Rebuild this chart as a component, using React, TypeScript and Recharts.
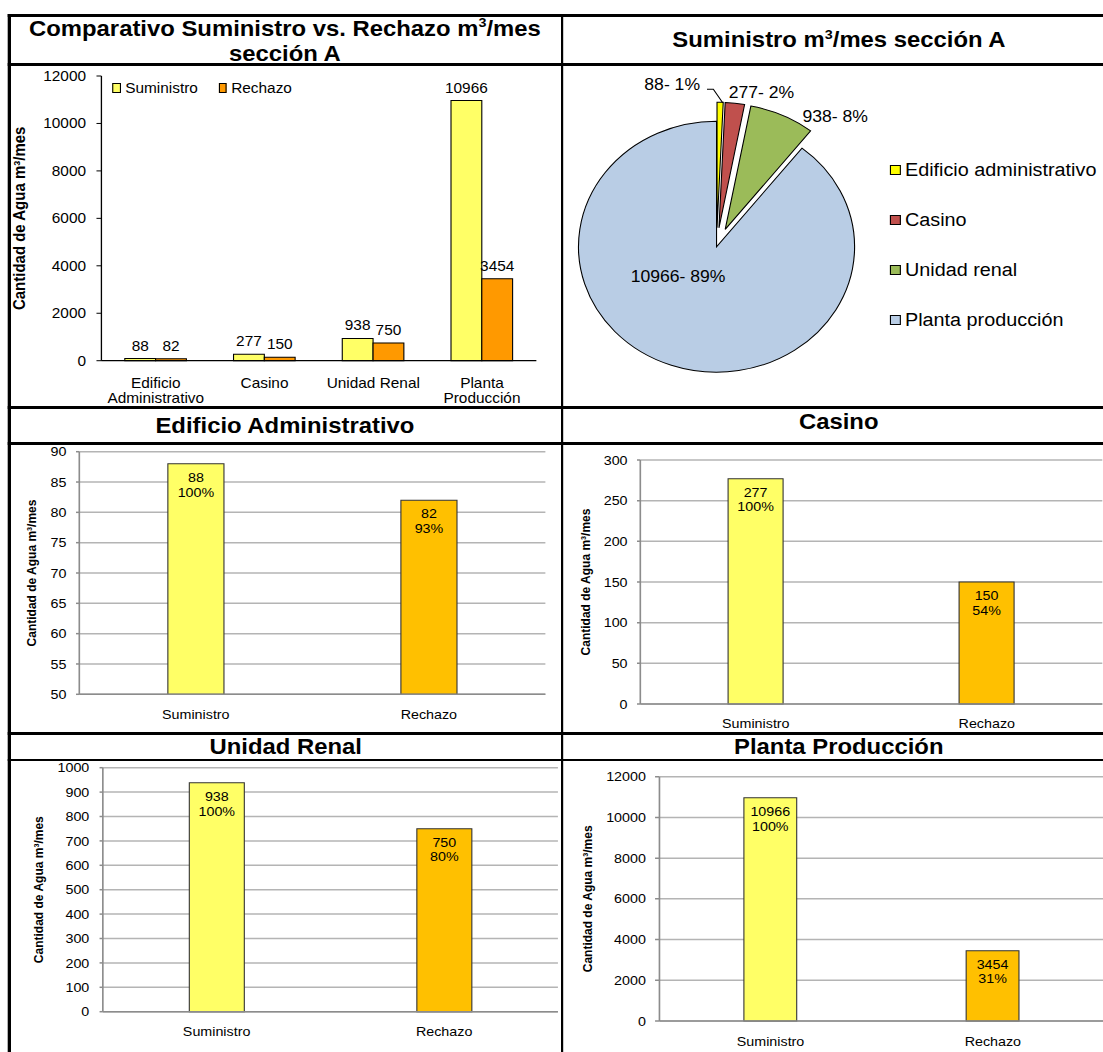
import React from 'react';
import {
  BarChart,
  Bar,
  XAxis,
  YAxis,
  CartesianGrid,
  LabelList,
  Label,
  Cell,
  PieChart,
  Pie,
  Sector,
} from 'recharts';

// ---- data ----
const AREAS = ['Edificio Administrativo', 'Casino', 'Unidad Renal', 'Planta Producción'];
const AREA_TICK_LINES = [['Edificio', 'Administrativo'], ['Casino'], ['Unidad Renal'], ['Planta', 'Producción']];
const SUMINISTRO = [88, 277, 938, 10966];
const RECHAZO = [82, 150, 750, 3454];
const SERIES = ['Suministro', 'Rechazo'];
const PIE_NAMES = ['Edificio administrativo', 'Casino', 'Unidad renal', 'Planta producción'];

const MAIN_TICKS = [0, 2000, 4000, 6000, 8000, 10000, 12000];
const EDIFICIO_TICKS = [50, 55, 60, 65, 70, 75, 80, 85, 90];
const CASINO_TICKS = [0, 50, 100, 150, 200, 250, 300];
const RENAL_TICKS = [0, 100, 200, 300, 400, 500, 600, 700, 800, 900, 1000];
const PLANTA_TICKS = [0, 2000, 4000, 6000, 8000, 10000, 12000];

// ---- styles ----
const FONT = '"Liberation Sans", Arial, Helvetica, sans-serif';
const STRETCH = 1.1;
const TITLE_SIZE = 21.7;
const MAIN_COLORS = ['#FFFF66', '#FF9900'];
const DETAIL_COLORS = ['#FFFF66', '#FFC000'];
const PIE_COLORS = ['#FFFF00', '#C0504D', '#9BBB59', '#B9CDE5'];
const EXPLODED = new Set(['Edificio administrativo', 'Casino', 'Unidad renal']);
const AXIS_TITLE = 'Cantidad de Agua m³/mes';

const mainData = AREAS.map((area, i) => ({ area, Suministro: SUMINISTRO[i], Rechazo: RECHAZO[i] }));
const pieData = PIE_NAMES.map((name, i) => ({ name, value: SUMINISTRO[i] }));

const axisTitle = (xPos: number, fontSize: number) => (props: any) => {
  const vb = props.viewBox || {};
  const cy = (vb.y ?? 0) + (vb.height ?? 0) / 2;
  return (
    <text
      x={xPos}
      y={cy}
      transform={`rotate(-90 ${xPos} ${cy})`}
      textAnchor="middle"
      dominantBaseline="central"
      fontWeight="bold"
      fontSize={fontSize}
      fill="#000"
      fontFamily={FONT}
    >
      {AXIS_TITLE}
    </text>
  );
};

const MainTick = (props: any) => {
  const { x, y, payload } = props;
  const idx = AREAS.indexOf(payload.value);
  const lines = AREA_TICK_LINES[idx] || [payload.value];
  return (
    <text x={x} y={y} textAnchor="middle" fontSize={14} fill="#000" fontFamily={FONT}>
      {lines.map((l, i) => (
        <tspan key={i} x={x} dy={i === 0 ? '0.35em' : 15}>
          {l}
        </tspan>
      ))}
    </text>
  );
};

const CenteredTick = (props: any) => {
  const { x, y, payload } = props;
  return (
    <text x={x} y={y} textAnchor="middle" dominantBaseline="central" fontSize={13} fill="#000" fontFamily={FONT}>
      {payload.value}
    </text>
  );
};

function Line({ left, top, width, height }: { left: number; top: number; width: number; height: number }) {
  return <div style={{ position: 'absolute', left, top, width, height, background: '#000' }} />;
}

const Sup = ({ children }: any) => (
  <span style={{ fontSize: '0.6em', lineHeight: 0, position: 'relative', top: '-0.65em' }}>{children}</span>
);

function TitleLine({ children }: any) {
  return <div style={{ height: 25, lineHeight: '25px', whiteSpace: 'nowrap' }}>{children}</div>;
}

function Title({ cx, top, children }: any) {
  return (
    <div
      style={{
        position: 'absolute',
        left: cx - 260,
        width: 520,
        top,
        textAlign: 'center',
        fontWeight: 'bold',
        fontSize: TITLE_SIZE,
        color: '#000',
      }}
    >
      {children}
    </div>
  );
}

function MainChart() {
  return (
    <div style={{ position: 'absolute', left: 10, top: 66, width: 490, height: 340 }}>
      <BarChart
        width={490}
        height={340}
        data={mainData}
        margin={{ top: 10, right: 12.4, bottom: 0, left: 0 }}
        barGap={0}
        barCategoryGap="21.5%"
      >
        <XAxis
          dataKey="area"
          height={45.3}
          interval={0}
          axisLine={{ stroke: '#000', strokeWidth: 1.2 }}
          tickLine={false}
          tickSize={0}
          tickMargin={22}
          tick={<MainTick />}
        />
        <XAxis xAxisId="top" orientation="top" dataKey="area" height={0} axisLine={{ stroke: '#000', strokeWidth: 1.2 }} tick={false} tickLine={false} />
        <YAxis
          width={82.2}
          domain={[0, 12000]}
          ticks={MAIN_TICKS}
          interval={0}
          axisLine={{ stroke: '#000', strokeWidth: 1.2 }}
          tickLine={{ stroke: '#000' }}
          tickSize={4.5}
          tickMargin={9.5}
          tick={{ fill: '#000', fontSize: 14, fontFamily: FONT }}
        >
          <Label content={axisTitle(7.8, 15)} />
        </YAxis>
        <YAxis yAxisId="right" orientation="right" width={0} domain={[0, 12000]} axisLine={{ stroke: '#000', strokeWidth: 1.2 }} tick={false} tickLine={false} />
        {SERIES.map((s, i) => (
          <Bar key={s} dataKey={s} fill={MAIN_COLORS[i]} stroke="#000" strokeWidth={1} isAnimationActive={false}>
            <LabelList dataKey={s} position="top" offset={8} fill="#000" fontSize={14} fontFamily={FONT} />
          </Bar>
        ))}
      </BarChart>
      <div
        style={{
          position: 'absolute',
          left: 92.3,
          top: 13,
          display: 'flex',
          alignItems: 'center',
          gap: 18.7,
          fontSize: 14,
          lineHeight: '18px',
        }}
      >
        {SERIES.map((s, i) => (
          <div key={s} style={{ display: 'flex', alignItems: 'center', gap: 4 }}>
            <div style={{ width: 5.5, height: 7.5, background: MAIN_COLORS[i], border: '1px solid #000' }} />
            <span>{s}</span>
          </div>
        ))}
      </div>
    </div>
  );
}

const PIE_LABEL_SPOTS = [
  { dx: -15, dy: -161.7, anchor: 'end' },
  { dx: 11, dy: -154.4, anchor: 'start' },
  { dx: 78.1, dy: -130, anchor: 'start' },
  { dx: -35, dy: 30, anchor: 'middle' },
];

const PIE_CX = 139.4;
const PIE_CY = 180.7;
const PIE_R = 125.5;

const renderSlice = (props: any) => {
  const { cx, cy, midAngle, innerRadius, outerRadius, startAngle, endAngle, fill, payload, name } = props;
  const key = payload?.name ?? name;
  const d = EXPLODED.has(key) ? 19 : 0;
  const rad = (-midAngle * Math.PI) / 180;
  return (
    <Sector
      cx={cx + d * Math.cos(rad)}
      cy={cy + d * Math.sin(rad)}
      innerRadius={innerRadius}
      outerRadius={outerRadius}
      startAngle={startAngle}
      endAngle={endAngle}
      fill={fill}
      stroke="#000"
      strokeWidth={1}
    />
  );
};

const renderPieLabel = (props: any) => {
  const { index, value, percent } = props;
  const cx = props.cx ?? PIE_CX;
  const cy = props.cy ?? PIE_CY;
  const spot = PIE_LABEL_SPOTS[index];
  const text = `${value}- ${Math.round(percent * 100)}%`;
  return (
    <g>
      {index === 0 && (
        <polyline
          points={`${cx - 8.7},${cy - 157.4} ${cx - 2.9},${cy - 157.4} ${cx + 5.6},${cy - 144}`}
          fill="none"
          stroke="#000"
          strokeWidth={1}
        />
      )}
      <text
        x={cx + spot.dx}
        y={cy + spot.dy}
        textAnchor={spot.anchor as any}
        dominantBaseline="central"
        fontSize={16}
        fill="#000"
        fontFamily={FONT}
      >
        {text}
      </text>
    </g>
  );
};

function PieBlock() {
  return (
    <div style={{ position: 'absolute', left: 512, top: 66, width: 491, height: 340 }}>
      <PieChart width={491} height={340} margin={{ top: 0, right: 0, bottom: 0, left: 0 }}>
        <Pie
          data={pieData}
          dataKey="value"
          nameKey="name"
          cx={PIE_CX}
          cy={PIE_CY}
          outerRadius={PIE_R}
          startAngle={90}
          endAngle={-270}
          stroke="#000"
          strokeWidth={1}
          isAnimationActive={false}
          shape={renderSlice}
          label={renderPieLabel}
          labelLine={false}
        >
          {pieData.map((d, i) => (
            <Cell key={d.name} fill={PIE_COLORS[i]} />
          ))}
        </Pie>
      </PieChart>
      <div style={{ position: 'absolute', left: 297, top: 79, fontSize: 18 }}>
        {PIE_NAMES.map((n, i) => (
          <div key={n} style={{ height: 50, display: 'flex', alignItems: 'center', gap: 4.2 }}>
            <div style={{ width: 7.5, height: 8, background: PIE_COLORS[i], border: '1px solid #000' }} />
            <span>{n}</span>
          </div>
        ))}
      </div>
    </div>
  );
}

type DetailProps = {
  area: number;
  ticks: number[];
  left: number;
  top: number;
  width: number;
  height: number;
  yAxisWidth: number;
  margin: { top: number; right: number; bottom: number; left: number };
  xAxisHeight: number;
  yTickSize: number;
  yTickMargin: number;
  titleX: number;
  xLabelOffset: number;
};

function DetailChart(p: DetailProps) {
  const values = [SUMINISTRO[p.area], RECHAZO[p.area]];
  const data = SERIES.map((s, i) => ({ serie: s, value: values[i] }));
  const base = values[0];
  const renderLabel = (props: any) => {
    const { x, y, width, value } = props;
    const lx = Number(x) + Number(width) / 2;
    const ly = Number(y);
    return (
      <g>
        <text x={lx} y={ly + 14} textAnchor="middle" dominantBaseline="central" fontSize={13} fill="#000" fontFamily={FONT}>
          {value}
        </text>
        <text x={lx} y={ly + 28.5} textAnchor="middle" dominantBaseline="central" fontSize={13} fill="#000" fontFamily={FONT}>
          {`${Math.round((Number(value) / base) * 100)}%`}
        </text>
      </g>
    );
  };
  return (
    <div style={{ position: 'absolute', left: p.left, top: p.top, width: p.width, height: p.height }}>
      <BarChart width={p.width} height={p.height} data={data} margin={p.margin} barCategoryGap="38%">
        <CartesianGrid vertical={false} stroke="#b4b4b4" strokeWidth={1.5} />
        <XAxis
          dataKey="serie"
          height={p.xAxisHeight}
          interval={0}
          axisLine={{ stroke: '#8c8c8c', strokeWidth: 1.5 }}
          tickLine={false}
          tickSize={0}
          tickMargin={p.xLabelOffset}
          tick={<CenteredTick />}
        />
        <YAxis
          width={p.yAxisWidth}
          domain={[p.ticks[0], p.ticks[p.ticks.length - 1]]}
          ticks={p.ticks}
          interval={0}
          axisLine={{ stroke: '#8c8c8c', strokeWidth: 1.5 }}
          tickLine={{ stroke: '#8c8c8c', strokeWidth: 1.5 }}
          tickSize={p.yTickSize}
          tickMargin={p.yTickMargin}
          tick={{ fill: '#000', fontSize: 13, fontFamily: FONT }}
        >
          <Label content={axisTitle(p.titleX, 12)} />
        </YAxis>
        <Bar dataKey="value" stroke="#333" strokeWidth={1} isAnimationActive={false}>
          {data.map((d, i) => (
            <Cell key={d.serie} fill={DETAIL_COLORS[i]} />
          ))}
          <LabelList dataKey="value" content={renderLabel} />
        </Bar>
      </BarChart>
    </div>
  );
}

export default function App() {
  const W = 1103 / STRETCH;
  return (
    <div
      style={{
        position: 'absolute',
        left: 0,
        top: 0,
        width: 1103,
        height: 1052,
        overflow: 'hidden',
        background: '#fff',
        fontFamily: FONT,
        color: '#000',
      }}
    >
      <div
        style={{
          position: 'absolute',
          left: 0,
          top: 0,
          width: W,
          height: 1052,
          transform: `scaleX(${STRETCH})`,
          transformOrigin: '0 0',
        }}
      >
        {/* table frame */}
        <Line left={7.3} top={14} width={W - 7.3} height={3} />
        <Line left={7.3} top={14} width={2.7} height={1052 - 14} />
        <Line left={509.5} top={14} width={2.4} height={1052 - 14} />
        <Line left={7.3} top={62.8} width={W - 7.3} height={3} />
        <Line left={7.3} top={406.3} width={W - 7.3} height={3} />
        <Line left={7.3} top={442} width={W - 7.3} height={2.6} />
        <Line left={7.3} top={731.6} width={W - 7.3} height={3} />
        <Line left={7.3} top={758.8} width={W - 7.3} height={2.6} />

        {/* cell titles */}
        <Title cx={259} top={15.5}>
          <TitleLine>
            Comparativo Suministro vs. Rechazo m<Sup>3</Sup>/mes
          </TitleLine>
          <TitleLine>sección A</TitleLine>
        </Title>
        <Title cx={762.7} top={27}>
          <TitleLine>
            Suministro m<Sup>3</Sup>/mes sección A
          </TitleLine>
        </Title>
        <Title cx={259} top={413.2}>
          <TitleLine>{AREAS[0]}</TitleLine>
        </Title>
        <Title cx={762.5} top={409.2}>
          <TitleLine>{AREAS[1]}</TitleLine>
        </Title>
        <Title cx={259.7} top={734.2}>
          <TitleLine>{AREAS[2]}</TitleLine>
        </Title>
        <Title cx={762.5} top={734.2}>
          <TitleLine>{AREAS[3]}</TitleLine>
        </Title>

        <MainChart />
        <PieBlock />

        <DetailChart
          area={0}
          ticks={EDIFICIO_TICKS}
          left={10}
          top={444}
          width={500}
          height={288}
          yAxisWidth={62.1}
          margin={{ top: 7.7, right: 14.2, bottom: 7.7, left: 0 }}
          xAxisHeight={30}
          yTickSize={3}
          yTickMargin={8.7}
          titleX={18.5}
          xLabelOffset={20}
        />
        <DetailChart
          area={1}
          ticks={CASINO_TICKS}
          left={513}
          top={445}
          width={490}
          height={287}
          yAxisWidth={69.1}
          margin={{ top: 15, right: 0.9, bottom: 0, left: 0 }}
          xAxisHeight={28}
          yTickSize={3}
          yTickMargin={8.6}
          titleX={19.7}
          xLabelOffset={20}
        />
        <DetailChart
          area={2}
          ticks={RENAL_TICKS}
          left={10}
          top={762}
          width={500}
          height={290}
          yAxisWidth={83.5}
          margin={{ top: 5.7, right: 2.8, bottom: 10.3, left: 0 }}
          xAxisHeight={30}
          yTickSize={3}
          yTickMargin={9.3}
          titleX={25.7}
          xLabelOffset={20}
        />
        <DetailChart
          area={3}
          ticks={PLANTA_TICKS}
          left={513}
          top={762}
          width={491}
          height={290}
          yAxisWidth={86.5}
          margin={{ top: 14.7, right: 0.4, bottom: 0, left: 0 }}
          xAxisHeight={31}
          yTickSize={4}
          yTickMargin={8.3}
          titleX={21.3}
          xLabelOffset={20.7}
        />
      </div>
    </div>
  );
}
